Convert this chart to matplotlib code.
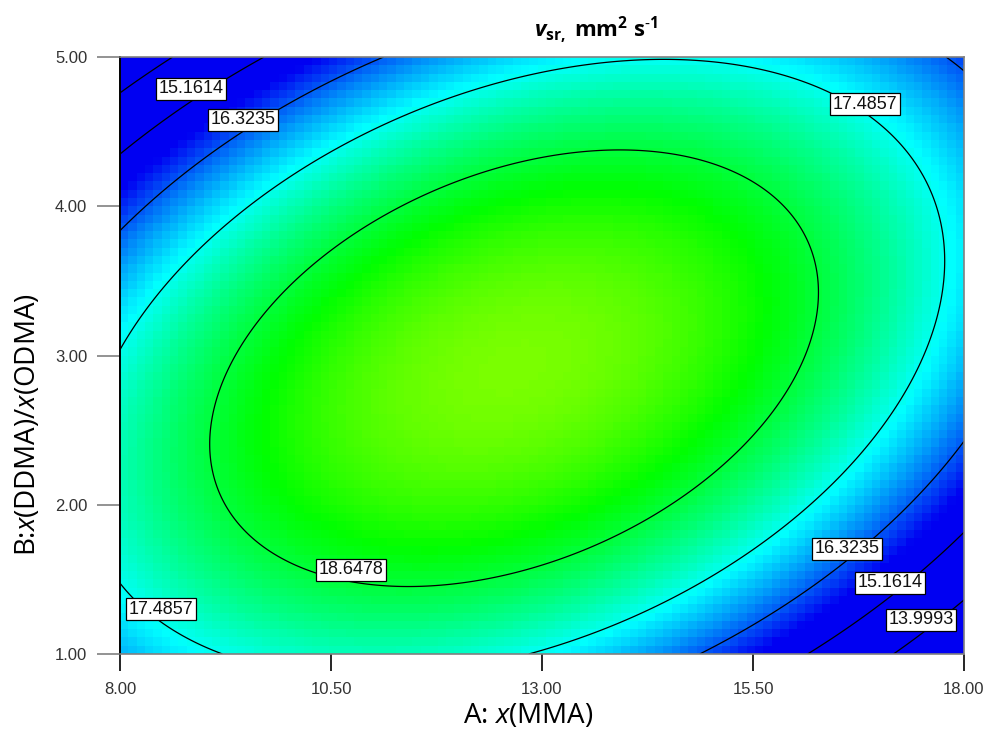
import numpy as np
import matplotlib
matplotlib.use("Agg")
import matplotlib.pyplot as plt
from matplotlib.colors import LinearSegmentedColormap

# Quadratic response-surface model (coded units: a=(A-13)/5, b=(B-3)/2)
coef_names = ["b0", "bA", "bB", "bAB", "bAA", "bBB"]
coef_vals = [19.7974, -0.2616, -0.0953, 1.7387, -2.5367, -2.4673]
A_range = [8.0, 18.0]
B_range = [1.0, 5.0]
levels = [13.9993, 15.1614, 16.3235, 17.4857, 18.6478]
x_ticks = [8.0, 10.5, 13.0, 15.5, 18.0]
x_ticklabels = ["8.00", "10.50", "13.00", "15.50", "18.00"]
y_ticks = [1.0, 2.0, 3.0, 4.0, 5.0]
y_ticklabels = ["1.00", "2.00", "3.00", "4.00", "5.00"]

# contour label placement (A, B) and which level
label_levels = [15.1614, 16.3235, 17.4857, 18.6478, 17.4857, 16.3235, 15.1614, 13.9993]
label_pos = [(8.84, 4.786), (9.457, 4.578), (16.83, 4.685), (10.737, 1.563),
             (8.486, 1.30), (16.614, 1.704), (17.123, 1.476), (17.49, 1.228)]

plt.rcParams['mathtext.fontset'] = 'custom'
plt.rcParams['mathtext.rm'] = 'Open Sans'
plt.rcParams['mathtext.it'] = 'Open Sans:italic'
plt.rcParams['mathtext.bf'] = 'Open Sans:bold'
plt.rcParams['mathtext.bfit'] = 'Open Sans:bold:italic'

W, H = 989, 740
fig = plt.figure(figsize=(W/100, H/100), dpi=100)
ax = fig.add_axes([120/W, 1-654/H, 844/W, 597/H])

nA, nB = 101, 72
Ae = np.linspace(A_range[0], A_range[1], nA + 1)
Be = np.linspace(B_range[0], B_range[1], nB + 1)
Ac = 0.5*(Ae[1:] + Ae[:-1]); Bc = 0.5*(Be[1:] + Be[:-1])

def model(A, B):
    c = dict(zip(coef_names, coef_vals))
    a = (A - 13.0) / 5.0
    b = (B - 3.0) / 2.0
    return c["b0"] + c["bA"]*a + c["bB"]*b + c["bAB"]*a*b + c["bAA"]*a*a + c["bBB"]*b*b

AAc, BBc = np.meshgrid(Ac, Bc)
Zc = model(AAc, BBc)
cmap = LinearSegmentedColormap.from_list(
    "de", ["#0000f2", "#00ffff", "#00ff00", "#ffff00", "#ff0000"])
ax.pcolormesh(Ae, Be, Zc, cmap=cmap, vmin=15.75, vmax=22.3, shading='flat',
              rasterized=True)

Af = np.linspace(A_range[0], A_range[1], 400)
Bf = np.linspace(B_range[0], B_range[1], 300)
AAf, BBf = np.meshgrid(Af, Bf)
Zf = model(AAf, BBf)
ax.contour(AAf, BBf, Zf, levels=levels, colors='k', linewidths=0.9, zorder=2)

for lv, (xa, yb) in zip(label_levels, label_pos):
    ax.text(xa, yb, f"{lv:.4f}", ha='center', va='center', fontsize=13,
            family='Liberation Sans', color='#111111', zorder=5,
            bbox=dict(boxstyle='square,pad=0.15', facecolor='white',
                      edgecolor='black', linewidth=0.9))

ax.set_xlim(A_range)
ax.set_ylim(B_range)
ax.set_xticks(x_ticks)
ax.set_xticklabels(x_ticklabels, family='Liberation Sans', fontsize=12, color='#333333')
ax.set_yticks(y_ticks)
ax.set_yticklabels(y_ticklabels, family='Liberation Sans', fontsize=12, color='#333333')
ax.tick_params(axis='x', direction='out', length=12, width=1.2, color='black', pad=8)
ax.tick_params(axis='y', direction='out', length=16.5, width=1.2, color='#808080', pad=7)

ax.spines['left'].set_color('black')
ax.spines['left'].set_linewidth(1.4)
for s in ['bottom', 'top', 'right']:
    ax.spines[s].set_color('#808080')
    ax.spines[s].set_linewidth(1.2)

fig.text(596/W, 1-30/H,
         r"$\mathbfit{v}_{\mathbf{sr,}}$ mm$^{\mathbf{2}}$ s$^{\mathbf{\text{-}1}}$",
         ha='center', va='center', fontsize=16, family='Open Sans', weight='bold')

fig.text(528/W, 1-716/H, r"A: $\mathit{x}$(MMA)", ha='center', va='center',
         fontsize=20, family='Open Sans')
fig.text(28/W, 1-425/H, r"B:$\mathit{x}$(DDMA)/$\mathit{x}$(ODMA)", ha='center', va='center',
         fontsize=20, family='Open Sans', rotation=90)

fig.savefig("out.png", dpi=100)
